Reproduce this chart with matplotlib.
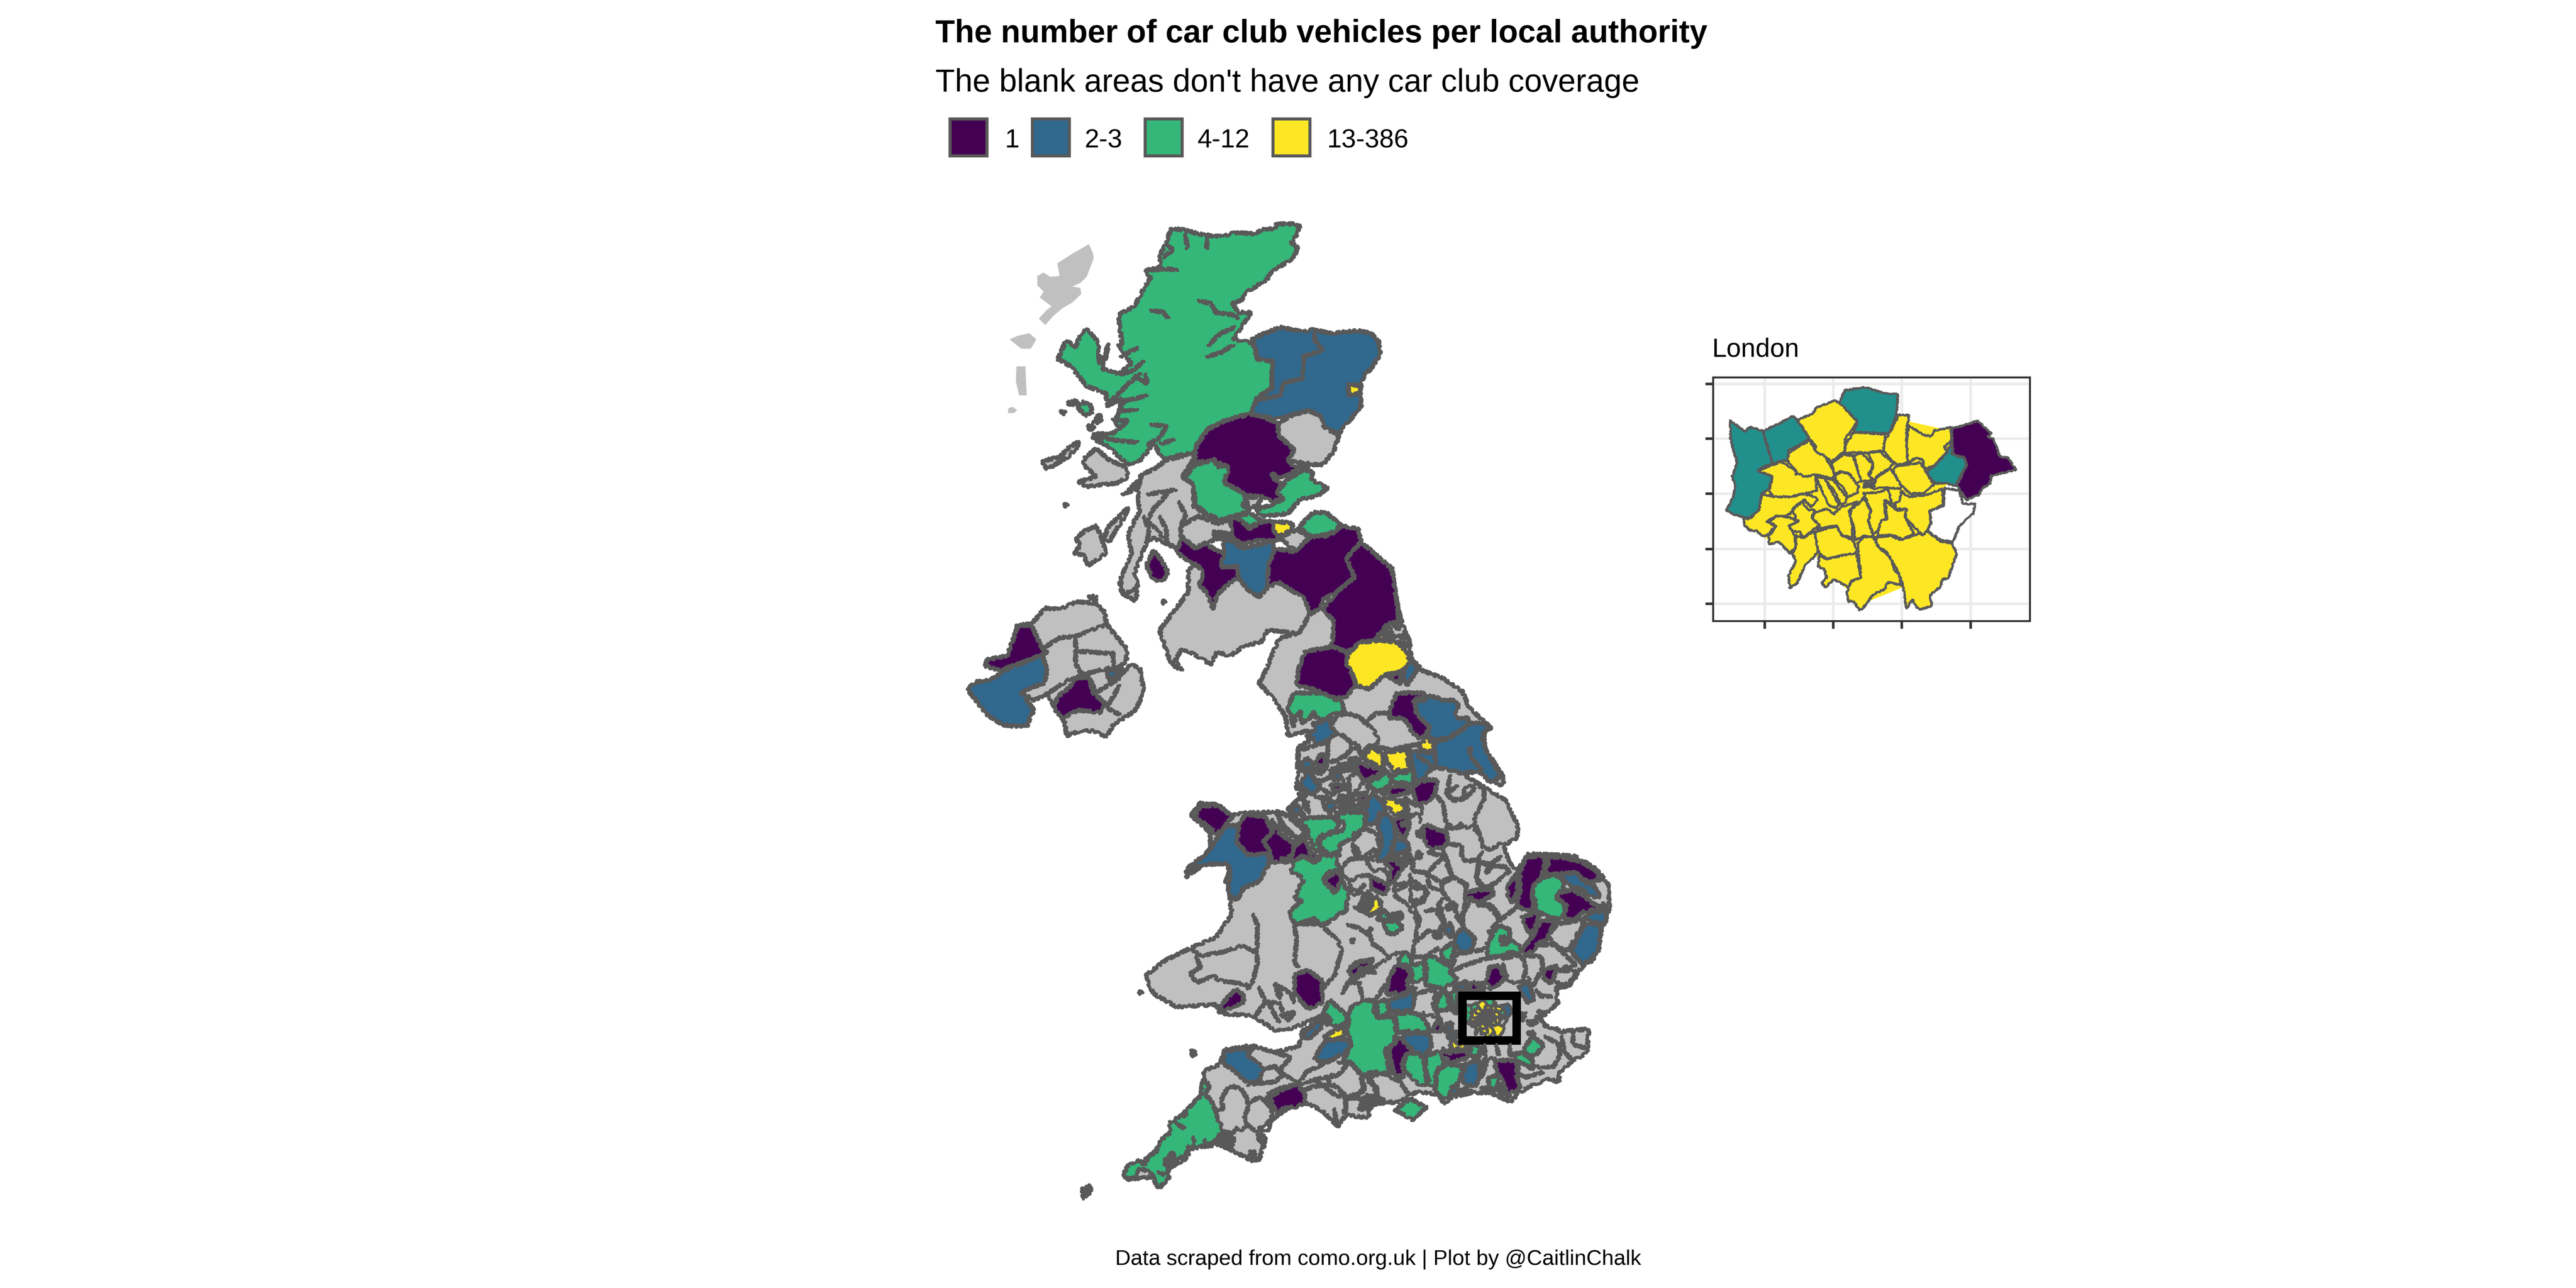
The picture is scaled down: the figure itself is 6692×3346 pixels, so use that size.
"""Car club vehicles per local authority, traced choropleth of the UK with a London inset."""
import matplotlib
matplotlib.use("Agg")
import matplotlib.pyplot as plt
from matplotlib.patches import Polygon, Rectangle

plt.rcParams["font.family"] = ["Liberation Sans", "DejaVu Sans"]

W, H = 6692, 3346
DPI = 300
EDGE = "#595959"
LW = 1.9
LW_LONDON = 1.35
ROUGH = (3.5, 28, 24)
ROUGH_LONDON = (1.6, 30, 24)

TITLE = "The number of car club vehicles per local authority"
SUBTITLE = "The blank areas don't have any car club coverage"
CAPTION = "Data scraped from como.org.uk | Plot by @CaitlinChalk"
LEGEND_LABELS = ["1", "2-3", "4-12", "13-386"]
LEGEND_KEY_X = [2464, 2678, 2971, 3303]
LEGEND_TEXT_X = [2611, 2818, 3110, 3448]

# fill classes: g = no club, a = 1, b = 2-3, c = 4-12, d = 13-386, t = London mid class
COLS = {"g": "#C0C0C0", "a": "#440154", "b": "#31688E", "c": "#35B779", "d": "#FDE725",
        "t": "#21908C", "w": "#FFFFFF", "k": EDGE}

# tracing sheets: x0, y0, x scale, y scale to map units
SHEETS = {"N": (2450, 550, 1300 / 1568, 1000 / 1568),
          "M": (2450, 1500, 1800 / 1568, 1000 / 1568),
          "C": (3300, 1800, 600 / 1568, 600 / 1568),
          "E": (3500, 2200, 700 / 1568, 700 / 1568),
          "S": (3400, 2500, 750 / 1568, 1 / 3),
          "P": (2700, 2300, 1600 / 1568, 900 / 1568),
          "W": (2850, 2780, 800 / 1568, 1 / 3)}

# coast of England, Wales and southern Scotland, run by run
COAST = [
    ("M", [(1018, -40), (1018, 0), (1030, 130), (1040, 195), (1055, 260), (1060, 330), (1085, 380), (1130, 410),
           (1175, 465), (1190, 530), (1235, 605), (1225, 630), (1225, 690), (1270, 820), (1265, 850), (1215, 795),
           (1170, 795), (1220, 850), (1275, 910), (1300, 1010), (1300, 1060), (1270, 1090), (1280, 1160),
           (1300, 1195), (1325, 1125), (1430, 1135), (1480, 1190), (1505, 1250), (1508, 1350), (1490, 1420),
           (1480, 1510), (1470, 1560)]),
    ("E", [(1375, 690), (1330, 740), (1290, 810), (1215, 820), (1225, 910), (1150, 975), (1095, 985), (1135, 1010),
           (1150, 1040), (1220, 1060), (1240, 1075), (1405, 1060), (1395, 1200), (1320, 1240), (1235, 1310),
           (1230, 1370), (1180, 1350), (1090, 1380), (1000, 1430), (950, 1485), (830, 1430), (720, 1430), (600, 1460),
           (565, 1495), (530, 1440), (410, 1425), (370, 1440), (340, 1465), (280, 1490), (210, 1480), (140, 1500),
           (125, 1568)]),
    ("P", [(830, 1050), (780, 1040), (760, 1090), (720, 1020), (680, 985), (640, 1000), (600, 1050), (560, 1100),
           (575, 1150), (560, 1240), (540, 1245), (480, 1190), (465, 1170), (390, 1190), (370, 1240), (330, 1280),
           (320, 1340), (305, 1370), (290, 1320), (225, 1330), (215, 1300), (270, 1240), (320, 1170), (350, 1060),
           (410, 960), (420, 840), (460, 810), (470, 745), (540, 725), (600, 755), (660, 730), (670, 660), (720, 590),
           (640, 650), (600, 655), (560, 610), (545, 590), (460, 580), (450, 540), (350, 550), (290, 490), (270, 410),
           (320, 340), (390, 280), (450, 235), (490, 130), (485, 50), (490, 0)]),
    ("M", [(650, 1290), (640, 1240), (650, 1190), (635, 1165), (590, 1170), (550, 1220), (550, 1190), (605, 1110),
           (605, 1040), (575, 990), (560, 970), (578, 920), (620, 925), (650, 970), (680, 960), (755, 955), (800, 975),
           (780, 945), (825, 870), (800, 860), (805, 690), (830, 665), (825, 625), (780, 645), (775, 565), (745, 490),
           (715, 430), (730, 380), (760, 250), (785, 235), (805, 228), (735, 215), (720, 262), (680, 280), (650, 320),
           (620, 305), (605, 355), (575, 320), (540, 290), (525, 340), (540, 380), (515, 350), (490, 215), (530, 120),
           (555, 60), (555, -30), (575, -55)]),
]

NORTH_REGIONS = [
    ("n", [(457, 132), (470, 170), (472, 190), (450, 265), (430, 290), (405, 305), (430, 310), (433, 335), (405, 370),
           (375, 392), (345, 425), (320, 462), (300, 435), (325, 400), (340, 385), (303, 350), (315, 325), (295, 300),
           (295, 262), (315, 248), (335, 265), (365, 262), (358, 210), (400, 175)]),
    ("n", [(208, 520), (235, 505), (270, 495), (292, 520), (275, 558), (245, 558)]),
    ("n", [(230, 630), (258, 630), (262, 748), (238, 748), (228, 690)]),
    ("n", [(205, 800), (218, 795), (232, 808), (222, 820), (203, 820)]),
    ("c", [(715, 68), (760, 75), (800, 90), (850, 100), (880, 100), (915, 85), (970, 90), (1010, 70), (1040, 70),
           (1045, 50), (1095, 50), (1118, 60), (1105, 100), (1090, 125), (1110, 145), (1100, 185), (1060, 220),
           (1030, 240), (1015, 275), (985, 300), (955, 325), (935, 360), (905, 375), (925, 410), (965, 410), (945, 450),
           (910, 520), (970, 535), (985, 600), (1035, 610), (1030, 660), (1030, 720), (985, 755), (965, 825), (920, 835),
           (885, 850), (830, 885), (795, 950), (790, 980), (730, 995), (690, 1010), (660, 945), (620, 1010), (580, 1030),
           (540, 985), (510, 950), (470, 925), (475, 905), (530, 905), (550, 880), (540, 850), (555, 800), (560, 760),
           (515, 790), (510, 740), (450, 710), (400, 630), (360, 600), (385, 525), (415, 550), (435, 490), (455, 480),
           (485, 530), (490, 620), (520, 540), (500, 640), (550, 660), (590, 620), (550, 540), (560, 540), (555, 480),
           (550, 420), (600, 385), (630, 310), (650, 270), (635, 240), (680, 225), (680, 175), (695, 140)]),
    ("c", [(420, 795), (435, 775), (465, 790), (465, 820), (445, 830)]),
    ("c", [(470, 855), (490, 825), (495, 850), (480, 860)]),
    ("k", [(390, 775), (420, 770), (415, 785), (395, 785)]),
    ("k", [(455, 868), (470, 868), (472, 885), (458, 885)]),
    ("k", [(372, 810), (382, 810), (382, 822), (372, 822)]),
    ("k", [(380, 1188), (390, 1188), (390, 1198), (380, 1198)]),
    ("g", [(310, 1015), (365, 1000), (390, 965), (425, 935), (420, 960), (390, 1000), (350, 1030), (325, 1050)]),
    ("g", [(445, 1000), (480, 965), (520, 1010), (570, 1040), (580, 1080), (545, 1105), (480, 1115), (450, 1120),
           (425, 1100), (480, 1080), (440, 1030)]),
    ("g", [(620, 1070), (660, 1050), (700, 1010), (795, 985), (750, 1080), (785, 1110), (785, 1200), (860, 1265),
           (895, 1255), (900, 1310), (870, 1330), (810, 1340), (790, 1360), (750, 1330), (735, 1370), (660, 1330),
           (640, 1340), (600, 1470), (610, 1530), (565, 1560), (555, 1500), (590, 1390), (580, 1310), (615, 1220),
           (610, 1120)]),
    ("g", [(500, 1340), (520, 1280), (580, 1205), (570, 1240), (535, 1310), (520, 1345)]),
    ("g", [(415, 1330), (445, 1300), (480, 1280), (495, 1320), (510, 1390), (480, 1420), (455, 1440), (440, 1400),
           (410, 1390), (430, 1360)]),
    ("a", [(640, 1430), (660, 1380), (685, 1420), (705, 1470), (690, 1500), (660, 1500), (640, 1450)]),
    ("b", [(970, 515), (1020, 490), (1055, 470), (1130, 490), (1160, 480), (1210, 495), (1300, 485), (1340, 495),
           (1365, 530), (1370, 580), (1340, 640), (1320, 665), (1305, 715), (1310, 790), (1280, 840), (1240, 905),
           (1195, 880), (1180, 830), (1145, 810), (1100, 825), (1060, 840), (1000, 835), (965, 825), (985, 755),
           (1030, 720), (1030, 660), (1035, 610), (985, 600)]),
    ("d", [(1270, 700), (1310, 710), (1305, 740), (1270, 750)]),
    ("g", [(1050, 860), (1100, 825), (1145, 810), (1180, 830), (1195, 880), (1240, 910), (1225, 975), (1190, 1030),
           (1160, 1030), (1115, 1020), (1080, 1015), (1100, 970), (1050, 910)]),
    ("d", [(1115, 1035), (1145, 1030), (1140, 1045), (1115, 1045)]),
    ("a", [(795, 950), (830, 885), (885, 850), (920, 840), (965, 825), (1000, 835), (1050, 860), (1050, 910),
           (1100, 970), (1080, 1015), (1110, 1050), (1060, 1085), (1030, 1065), (1040, 1095), (1060, 1105), (1050, 1140),
           (1065, 1165), (1030, 1180), (990, 1160), (950, 1155), (920, 1130), (880, 1105), (885, 1045), (895, 1040),
           (850, 1015), (790, 1020), (790, 985)]),
    ("c", [(755, 1085), (790, 1030), (850, 1010), (860, 1040), (895, 1040), (880, 1105), (920, 1130), (950, 1160),
           (940, 1195), (960, 1220), (870, 1255), (825, 1230), (790, 1190), (785, 1110)]),
    ("g", [(950, 1165), (1000, 1160), (985, 1200), (955, 1205)]),
    ("c", [(1050, 1135), (1080, 1090), (1130, 1050), (1160, 1060), (1150, 1090), (1205, 1125), (1170, 1160), (1120, 1170),
           (1080, 1230), (1000, 1240), (980, 1215), (1040, 1190), (1065, 1170), (1045, 1140)]),
    ("c", [(920, 1235), (965, 1230), (1000, 1260), (960, 1285)]),
    ("a", [(900, 1250), (920, 1245), (960, 1290), (1000, 1262), (1030, 1260), (1050, 1340), (980, 1340), (935, 1355),
           (905, 1325)]),
    ("g", [(1055, 1325), (1110, 1295), (1150, 1325), (1105, 1380), (1070, 1345)]),
    ("d", [(1040, 1260), (1095, 1270), (1095, 1295), (1050, 1325), (1035, 1295)]),
    ("c", [(1110, 1290), (1160, 1225), (1200, 1225), (1245, 1275), (1215, 1310), (1155, 1325), (1125, 1295)]),
    ("g", [(745, 1280), (800, 1240), (860, 1270), (900, 1260), (905, 1320), (870, 1330), (820, 1350), (790, 1370),
           (745, 1320)]),
    ("d", [(850, 1300), (900, 1315), (895, 1325), (870, 1320), (850, 1330)]),
]

NORTH_LINES = [
    [(800, 360), (840, 375), (855, 410), (910, 420), (925, 435)],
    [(830, 545), (870, 495), (915, 470)],
    [(825, 590), (870, 575), (910, 540)],
    [(735, 240), (700, 232), (640, 240)],
    [(650, 400), (690, 410), (705, 435)],
    [(650, 865), (700, 875), (680, 920), (640, 950)],
    [(470, 915), (540, 930), (610, 940)],
    [(725, 930), (680, 945)],
    [(1165, 490), (1165, 525), (1190, 565), (1130, 590), (1125, 680), (1070, 695), (1055, 750), (985, 765)],
    [(520, 540), (505, 600)],
    [(630, 610), (590, 650), (550, 665)],
    [(640, 1150), (700, 1140), (730, 1130)],
    [(760, 90), (765, 150)],
    [(830, 105), (825, 150)],
    [(700, 130), (720, 155), (690, 185)],
    [(555, 590), (610, 555)],
    [(635, 660), (640, 700), (600, 670)],
    [(620, 660), (580, 700), (560, 730), (510, 790)],
    [(640, 750), (570, 770), (550, 810), (610, 810)],
    [(550, 885), (580, 850), (530, 850)],
    [(710, 1140), (660, 1210), (640, 1260), (665, 1290), (715, 1365)],
    [(580, 1130), (610, 1100)],
    [(630, 1240), (645, 1300), (640, 1345)],
    [(740, 1180), (760, 1240), (745, 1280)],
    [(560, 1150), (610, 1130), (620, 1080)],
    [(680, 1240), (700, 1300), (700, 1340)],
]

MID_REGIONS = [
    ("g", [(165, 195), (200, 190), (230, 125), (265, 130), (300, 100), (345, 105), (365, 140), (370, 190), (385, 225),
           (415, 290), (415, 340), (390, 375), (400, 400), (425, 355), (445, 370), (455, 470), (435, 540), (420, 560),
           (385, 600), (370, 650), (340, 625), (310, 625), (280, 645), (275, 590), (235, 480), (205, 500), (175, 465),
           (225, 400), (230, 315)]),
    ("a", [(170, 195), (200, 195), (225, 290), (235, 305), (195, 335), (150, 365), (130, 380), (95, 360), (100, 335),
           (145, 320)]),
    ("b", [(225, 315), (235, 380), (230, 430), (175, 465), (205, 540), (190, 605), (155, 605), (135, 600), (100, 560),
           (55, 455), (75, 425), (105, 420), (150, 370)]),
    ("a", [(300, 410), (330, 405), (340, 470), (365, 510), (355, 550), (305, 540), (270, 575), (250, 530), (260, 485),
           (285, 450)]),
    ("b", [(370, 380), (395, 375), (395, 400), (375, 420)]),
    ("g", [(330, 75), (345, 75), (345, 95), (335, 90)]),
    ("g", [(400, 20), (420, 0), (440, 60), (435, 95), (405, 65)]),
    ("k", [(497, 92), (503, 92), (503, 104), (497, 104)]),
    ("a", [(538, -169), (570, -119), (592, -139), (635, -94), (628, -44), (668, -44), (668, 1), (650, 20), (620, 70),
           (610, 130), (600, 70), (580, 30), (590, -20), (575, -49), (540, -85), (527, -114)]),
    ("b", [(635, -149), (650, -154), (675, -119), (744, -144), (751, -104), (736, -49), (735, 40), (715, 80), (690, 50),
           (668, 1), (668, -44), (628, -44), (635, -89)]),
    ("a", [(751, -119), (794, -104), (830, -164), (874, -169), (902, -209), (939, -199), (946, -144), (913, -79),
           (931, 1), (890, 60), (860, 90), (850, 130), (830, 150), (820, 90), (760, 20), (735, 40), (736, -49)]),
    ("a", [(946, -144), (975, -99), (1014, -39), (1018, 0), (1030, 140), (1030, 180), (1005, 190), (990, 230),
           (975, 260), (945, 262), (915, 305), (880, 280), (885, 180), (860, 130), (890, 60), (931, 1), (913, -79)]),
    ("d", [(1000, 215), (1005, 190), (1015, 225), (1005, 225)]),
    ("d", [(985, 230), (1025, 240), (1005, 255), (985, 250)]),
    ("c", [(1020, 195), (1035, 195), (1030, 210)]),
    ("a", [(1030, 235), (1050, 235), (1040, 250)]),
    ("b", [(1035, 260), (1050, 265), (1040, 300)]),
    ("d", [(945, 262), (975, 260), (990, 255), (1030, 265), (1045, 300), (1060, 350), (1030, 390), (1000, 395),
           (965, 455), (935, 440), (925, 390), (910, 345), (920, 305)]),
    ("b", [(1060, 335), (1075, 370), (1050, 440), (1040, 410), (1045, 380)]),
    ("a", [(1005, 400), (1035, 385), (1035, 435)]),
    ("a", [(820, 300), (860, 290), (880, 280), (915, 305), (910, 345), (925, 390), (935, 440), (910, 490), (880, 490),
           (840, 455), (800, 440), (805, 370)]),
    ("a", [(582, 930), (625, 930), (655, 975), (620, 1045), (590, 1000), (570, 980)]),
    ("b", [(640, 1010), (670, 1010), (665, 1080), (690, 1125), (740, 1130), (735, 1175), (715, 1240), (680, 1265),
           (665, 1315), (645, 1290), (650, 1190), (640, 1165), (590, 1170), (555, 1195), (605, 1105)]),
    ("a", [(670, 1000), (685, 965), (730, 975), (745, 1040), (725, 1075), (745, 1125), (690, 1130), (665, 1080)]),
    ("a", [(745, 985), (760, 1040), (795, 1085), (795, 1135), (745, 1165), (740, 1120), (725, 1075), (745, 1040)]),
]

MID_LINES = [
    [(830, 150), (805, 228)],
    [(225, 290), (265, 245), (300, 240), (365, 195)],
    [(300, 240), (300, 350), (315, 400), (290, 410), (230, 480)],
    [(300, 300), (385, 310), (385, 365), (315, 395)],
    [(330, 400), (345, 470), (400, 410), (405, 370)],
    [(400, 440), (370, 530), (400, 560)],
    [(755, 960), (770, 1010), (800, 1060), (825, 1060)],
    [(1165, 850), (1140, 880), (1150, 905), (1180, 900), (1205, 860)],
]

CENTRE_REGIONS = [
    ("c", [(120, 90), (150, 25), (170, 0), (360, 0), (400, 30), (490, 65), (500, 130), (430, 145), (350, 185), (310, 165),
           (290, 130), (270, 170), (210, 205), (205, 125), (175, 155), (155, 230), (145, 160), (125, 130)]),
    ("b", [(290, 200), (340, 200), (410, 170), (410, 225), (450, 275), (400, 310), (385, 340), (320, 345), (290, 310),
           (245, 300), (300, 250)]),
    ("a", [(860, 0), (1050, 0), (1045, 40), (985, 40), (970, 50), (990, 130), (1030, 180), (1080, 230), (1055, 290),
           (1015, 310), (960, 265), (940, 215), (900, 170), (810, 170), (810, 120)]),
    ("b", [(985, 50), (1050, 50), (1070, 20), (1130, 30), (1175, 50), (1250, 50), (1280, 90), (1255, 120), (1265, 175),
           (1340, 170), (1345, 200), (1310, 245), (1250, 275), (1215, 305), (1120, 320), (1090, 300), (1060, 290),
           (1085, 235), (1030, 180), (990, 130)]),
    ("b", [(1130, 325), (1220, 310), (1260, 275), (1320, 240), (1350, 205), (1410, 205), (1500, 235), (1450, 265),
           (1440, 310), (1470, 400), (1568, 570), (1520, 590), (1490, 605), (1430, 540), (1400, 530), (1300, 545),
           (1240, 530), (1190, 515), (1125, 510), (1115, 380)]),
    ("d", [(1050, 300), (1080, 295), (1090, 340), (1110, 355), (1110, 395), (1060, 400), (1020, 385), (1005, 345),
           (1040, 335)]),
    ("b", [(960, 390), (1000, 395), (1055, 410), (1115, 400), (1125, 505), (1060, 540), (1050, 580), (985, 590),
           (975, 530), (950, 440)]),
    ("a", [(960, 650), (1000, 610), (1080, 590), (1135, 590), (1120, 680), (1085, 725), (1040, 750), (985, 730),
           (975, 680)]),
    ("d", [(780, 400), (860, 395), (905, 390), (945, 375), (930, 430), (945, 520), (880, 520), (840, 530), (810, 490),
           (790, 470)]),
    ("d", [(680, 365), (720, 385), (765, 425), (770, 505), (745, 510), (700, 480), (640, 450)]),
    ("c", [(780, 515), (810, 545), (820, 625), (760, 660), (720, 670), (660, 620), (720, 585), (770, 565)]),
    ("c", [(860, 540), (925, 540), (970, 530), (975, 600), (950, 630), (910, 610), (845, 610), (830, 580)]),
    ("a", [(610, 465), (660, 495), (690, 510), (745, 510), (755, 545), (700, 570), (650, 600), (590, 535)]),
    ("a", [(750, 680), (845, 635), (915, 630), (955, 675), (900, 685), (850, 695)]),
    ("d", [(770, 710), (835, 715), (855, 745), (880, 725), (915, 780), (935, 825), (890, 810), (850, 830), (820, 795),
           (780, 755)]),
    ("b", [(510, 475), (585, 465), (585, 515), (510, 500)]),
    ("a", [(460, 480), (495, 485), (500, 520), (470, 535)]),
    ("b", [(415, 510), (440, 505), (485, 580), (435, 595)]),
    ("a", [(300, 520), (360, 520), (390, 500), (340, 550), (300, 545)]),
    ("b", [(215, 470), (245, 440), (295, 490), (270, 515), (205, 510)]),
    ("a", [(305, 465), (345, 415), (370, 430), (375, 490), (320, 495)]),
    ("b", [(245, 540), (275, 535), (300, 600), (335, 620), (320, 670), (275, 690), (240, 660), (205, 630), (230, 570)]),
    ("b", [(195, 680), (240, 695), (215, 730)]),
    ("d", [(235, 730), (260, 745), (245, 780), (270, 812), (225, 770)]),
    ("b", [(130, 785), (175, 755), (235, 840), (185, 825)]),
    ("a", [(410, 620), (480, 620), (480, 665), (425, 660)]),
    ("d", [(470, 690), (530, 710), (490, 700), (470, 730), (450, 745), (470, 710)]),
    ("d", [(555, 680), (570, 720), (540, 790), (530, 765), (545, 720)]),
    ("a", [(595, 715), (625, 690), (655, 695), (640, 735), (600, 740)]),
    ("b", [(370, 760), (420, 730), (445, 770), (405, 815), (365, 780)]),
    ("b", [(460, 770), (510, 725), (520, 780), (480, 790)]),
    ("c", [(555, 780), (590, 755), (640, 770), (625, 795), (580, 800)]),
    ("c", [(190, 860), (250, 850), (420, 840), (470, 885), (430, 940), (380, 950), (325, 985), (320, 1020), (345, 1075),
           (300, 1070), (270, 985), (230, 955), (265, 935)]),
    ("c", [(440, 810), (520, 815), (560, 810), (640, 810), (645, 910), (580, 945), (540, 995), (470, 1030), (470, 1080),
           (410, 1095), (360, 1070), (330, 1020), (350, 985), (400, 960), (490, 935), (505, 885), (470, 860)]),
    ("b", [(700, 680), (740, 720), (770, 765), (790, 800), (740, 820), (720, 880), (680, 895), (655, 880), (660, 730)]),
    ("b", [(800, 820), (830, 860), (855, 980), (830, 1020), (820, 1090), (780, 1120), (730, 1150), (730, 1100),
           (760, 1020), (745, 960), (725, 890), (745, 860), (740, 835)]),
    ("b", [(870, 990), (925, 1005), (945, 1070), (880, 1085), (850, 1120), (835, 1090), (840, 1030)]),
    ("a", [(845, 855), (920, 835), (945, 870), (940, 920), (915, 980), (885, 975), (860, 930)]),
    ("b", [(890, 880), (940, 865), (920, 895), (895, 900)]),
    ("a", [(1040, 900), (1070, 895), (1120, 925), (1200, 945), (1205, 1015), (1170, 1055), (1125, 1045), (1095, 1070),
           (1040, 990)]),
    ("b", [(1000, 940), (1030, 925), (1025, 975), (995, 965)]),
    ("d", [(1010, 1075), (1030, 1100), (1010, 1125), (990, 1100)]),
    ("a", [(775, 1150), (820, 1125), (850, 1150), (880, 1170), (925, 1165), (880, 1210), (860, 1250), (830, 1290),
           (800, 1280), (825, 1220), (820, 1190)]),
    ("a", [(900, 1100), (950, 1100), (965, 1160), (930, 1145)]),
    ("c", [(855, 1135), (885, 1115), (910, 1145), (885, 1165)]),
    ("a", [(685, 1240), (730, 1270), (810, 1310), (775, 1370), (720, 1345), (690, 1330)]),
    ("a", [(560, 1020), (590, 1060), (600, 1090), (570, 1095)]),
    ("a", [(155, 1050), (225, 990), (260, 1040), (270, 1085), (320, 1100), (305, 1130), (225, 1100), (180, 1130),
           (95, 1150), (70, 1130), (155, 1100)]),
    ("c", [(155, 1140), (220, 1110), (300, 1150), (330, 1130), (345, 1090), (410, 1110), (470, 1095), (440, 1150),
           (470, 1175), (470, 1200), (400, 1215), (355, 1270), (440, 1360), (490, 1265), (505, 1320), (540, 1340),
           (520, 1410), (515, 1480), (470, 1500), (380, 1568), (170, 1568), (120, 1490), (170, 1450), (215, 1410),
           (165, 1395), (200, 1310), (225, 1285), (215, 1250), (140, 1215), (150, 1170)]),
    ("a", [(370, 1265), (410, 1235), (460, 1220), (490, 1260), (445, 1345), (400, 1310)]),
    ("d", [(725, 1380), (750, 1420), (745, 1470), (710, 1495), (670, 1515), (650, 1490), (690, 1440), (680, 1430)]),
    ("b", [(630, 1385), (665, 1350), (695, 1395), (640, 1390)]),
    ("c", [(630, 1420), (665, 1410), (660, 1460), (640, 1465)]),
    ("d", [(835, 1495), (885, 1495), (890, 1530), (835, 1530)]),
    ("c", [(725, 1530), (765, 1475), (810, 1510), (815, 1540), (760, 1545)]),
    ("a", [(1325, 1360), (1400, 1340), (1510, 1330), (1510, 1370), (1440, 1390), (1405, 1425), (1370, 1390), (1325, 1385)]),
    ("a", [(1195, 910), (1225, 890), (1220, 905), (1200, 915)]),
    ("b", [(1265, 905), (1300, 885), (1280, 915)]),
    ("b", [(1190, 1460), (1230, 1425), (1255, 1450), (1210, 1470)]),
]

CENTRE_LINES = [
    [(1225, 560), (1195, 685), (1250, 730), (1310, 720), (1320, 650), (1395, 620), (1450, 650), (1450, 730), (1390, 840),
     (1385, 880), (1420, 960), (1445, 1050), (1500, 1065), (1568, 1020)],
    [(1120, 680), (1175, 760), (1195, 890), (1220, 920), (1375, 910), (1420, 960)],
    [(1000, 820), (950, 840), (910, 710), (980, 760), (1030, 770), (1010, 880)],
    [(1200, 1020), (1300, 1040), (1300, 1110), (1330, 1145), (1410, 1130), (1445, 1080)],
    [(1420, 1130), (1400, 1250), (1420, 1310), (1510, 1320)],
    [(1400, 1140), (1490, 1165), (1568, 1110)],
    [(1490, 1165), (1465, 1225)],
    [(1180, 1070), (1200, 1170), (1240, 1250), (1335, 1300), (1320, 1350)],
    [(1240, 1250), (1165, 1280), (1165, 1340), (1220, 1420)],
    [(1070, 1080), (1175, 1110)],
    [(980, 1130), (960, 1210), (1065, 1220), (1075, 1290), (1085, 1320), (1165, 1350)],
    [(1065, 1220), (1180, 1110)],
    [(950, 1230), (960, 1280), (840, 1310), (850, 1380), (920, 1430), (990, 1530), (1000, 1568)],
    [(950, 1300), (1000, 1330), (1040, 1310), (1060, 1360), (1030, 1400), (950, 1420), (960, 1370), (950, 1300)],
    [(1120, 1470), (1170, 1470), (1130, 1490), (1190, 1568)],
    [(1050, 1480), (1110, 1470)],
    [(1330, 1400), (1310, 1500), (1300, 1568)],
    [(1405, 1440), (1500, 1440), (1568, 1530)],
    [(590, 1100), (630, 1120), (710, 1060), (740, 1080), (650, 1140), (690, 1210), (780, 1200), (810, 1260)],
    [(700, 1140), (630, 1120), (540, 1130), (480, 1190), (490, 1240), (540, 1280), (620, 1240), (680, 1240)],
    [(560, 1000), (640, 920), (720, 950), (745, 1050)],
    [(540, 1280), (550, 1340), (600, 1345), (640, 1300)],
    [(560, 1370), (620, 1350), (630, 1390), (600, 1470), (650, 1490), (570, 1450)],
    [(330, 350), (390, 320), (390, 470), (450, 460), (500, 430), (555, 385), (545, 335)],
    [(500, 440), (540, 390), (590, 370), (630, 440), (530, 450)],
    [(190, 380), (230, 380), (330, 350)],
    [(190, 380), (185, 490), (205, 525), (300, 520), (380, 500), (395, 490)],
    [(295, 545), (300, 590), (345, 600), (410, 570), (410, 520)],
    [(340, 640), (410, 690), (450, 680)],
    [(300, 700), (340, 710), (410, 710), (350, 740), (370, 760)],
    [(500, 590), (510, 660), (540, 680), (530, 580), (590, 530), (630, 610), (590, 650), (570, 690), (655, 680), (660, 630)],
    [(490, 530), (580, 515), (600, 530)],
    [(415, 215), (450, 155), (530, 140), (610, 165), (640, 200), (700, 250), (720, 290), (735, 330), (710, 360), (660, 360),
     (630, 420), (590, 350), (545, 335), (495, 290), (450, 275)],
    [(650, 190), (720, 140), (800, 135)],
    [(720, 360), (820, 390), (900, 365), (1000, 350)],
    [(60, 830), (80, 810), (170, 880), (240, 940), (210, 975), (150, 1010), (130, 960), (75, 920), (60, 830)],
    [(1340, 375), (1365, 370), (1350, 420), (1385, 465), (1440, 525)],
    [(1000, 425), (1060, 470), (1110, 510)],
]

EAST_REGIONS = [
    ("a", [(1040, 60), (1150, 50), (1150, 100), (1130, 180), (1085, 220), (1075, 290), (1085, 330), (1075, 370), (1030, 370),
           (985, 335), (1005, 255), (1005, 150)]),
    ("a", [(935, 215), (995, 150), (990, 260), (960, 325), (935, 280)]),
    ("a", [(1170, 55), (1270, 65), (1360, 85), (1430, 130), (1475, 190), (1410, 205), (1350, 175), (1330, 150), (1250, 155),
           (1200, 160), (1145, 160), (1170, 100)]),
    ("b", [(1250, 155), (1335, 150), (1380, 205), (1440, 230), (1470, 290), (1425, 290), (1360, 240), (1310, 235),
           (1270, 210)]),
    ("c", [(1135, 180), (1200, 160), (1255, 190), (1265, 225), (1240, 260), (1215, 295), (1265, 340), (1260, 395),
           (1240, 420), (1160, 405), (1130, 385), (1090, 360), (1100, 320), (1075, 290), (1085, 225)]),
    ("a", [(1240, 265), (1300, 250), (1360, 270), (1430, 330), (1480, 350), (1370, 380), (1320, 425), (1260, 420),
           (1275, 340), (1215, 295)]),
    ("d", [(1335, 258), (1345, 260), (1345, 275), (1335, 270)]),
    ("b", [(1380, 405), (1420, 380), (1510, 375), (1505, 440), (1490, 450), (1430, 435)]),
    ("b", [(1490, 325), (1515, 345), (1510, 370), (1495, 350)]),
    ("a", [(1015, 405), (1110, 385), (1115, 410), (1090, 480), (1060, 510), (1035, 450)]),
    ("a", [(1130, 425), (1210, 430), (1180, 500), (1160, 545), (1105, 560), (1090, 600), (1045, 620), (1015, 600), (1080, 520)]),
    ("b", [(1385, 445), (1430, 445), (1480, 470), (1470, 545), (1460, 610), (1420, 640), (1375, 690), (1320, 630),
           (1305, 600), (1345, 520)]),
    ("c", [(815, 560), (880, 455), (945, 480), (945, 540), (1010, 585), (1000, 625), (950, 610), (890, 640), (815, 635)]),
    ("g", [(890, 520), (930, 520), (935, 565), (895, 565)]),
    ("d", [(900, 527), (920, 530), (915, 550), (905, 550)]),
    ("a", [(690, 262), (740, 255), (845, 245), (850, 280), (770, 320), (735, 300), (690, 290)]),
    ("b", [(625, 510), (670, 475), (700, 490), (745, 535), (720, 610), (680, 620), (630, 575)]),
    ("b", [(565, 470), (600, 445), (615, 500), (610, 530), (570, 500)]),
    ("c", [(505, 510), (550, 500), (540, 525), (510, 530)]),
    ("b", [(575, 345), (610, 325), (635, 345), (600, 360)]),
    ("c", [(545, 600), (620, 555), (625, 600), (600, 670), (560, 660)]),
    ("c", [(450, 650), (480, 630), (520, 650), (605, 700), (600, 730), (640, 770), (580, 810), (560, 825), (450, 800),
           (465, 730)]),
    ("c", [(300, 650), (330, 610), (370, 640), (380, 690), (450, 670), (445, 770), (370, 790), (380, 730), (350, 690),
           (300, 680)]),
    ("a", [(240, 760), (290, 685), (340, 700), (375, 740), (350, 780), (350, 850), (280, 850), (230, 860)]),
    ("d", [(380, 810), (400, 825), (400, 840), (390, 835)]),
    ("b", [(235, 890), (350, 860), (360, 820), (395, 870), (375, 950), (320, 950), (250, 960)]),
    ("c", [(175, 900), (220, 890), (250, 960), (190, 995), (175, 990)]),
    ("c", [(280, 970), (380, 965), (430, 980), (470, 1040), (480, 1075), (380, 1070), (290, 1080)]),
    ("b", [(325, 1085), (480, 1085), (490, 1170), (440, 1210), (395, 1190), (330, 1140)]),
    ("a", [(295, 1110), (320, 1110), (335, 1145), (390, 1195), (345, 1210), (320, 1260), (325, 1340), (270, 1310),
           (240, 1180), (280, 1140)]),
    ("c", [(345, 1200), (400, 1200), (445, 1230), (465, 1380), (420, 1385), (330, 1300), (330, 1250)]),
    ("c", [(455, 1215), (540, 1190), (570, 1260), (530, 1290), (510, 1340), (510, 1400), (480, 1380), (455, 1290)]),
    ("c", [(525, 1300), (570, 1270), (670, 1270), (660, 1350), (590, 1440), (560, 1470), (510, 1420)]),
    ("b", [(690, 1260), (770, 1240), (770, 1340), (745, 1395), (680, 1375), (670, 1350)]),
    ("b", [(610, 1390), (640, 1380), (640, 1440), (600, 1445)]),
    ("b", [(660, 1410), (695, 1400), (690, 1430), (650, 1430)]),
    ("a", [(700, 1425), (720, 1415), (720, 1430)]),
    ("d", [(780, 1400), (820, 1400), (840, 1425), (790, 1415)]),
    ("c", [(820, 1340), (870, 1330), (880, 1370), (860, 1420), (825, 1400)]),
    ("c", [(880, 1375), (895, 1375), (905, 1450), (890, 1440)]),
    ("a", [(865, 1240), (985, 1245), (990, 1280), (985, 1330), (1005, 1400), (950, 1430), (930, 1470), (920, 1400),
           (890, 1340), (860, 1280)]),
    ("a", [(555, 1170), (590, 1200), (700, 1180), (700, 1230), (600, 1250), (555, 1210)]),
    ("d", [(610, 1120), (650, 1145), (690, 1150), (695, 1185), (595, 1170)]),
    ("c", [(715, 1150), (760, 1150), (775, 1215), (720, 1225)]),
    ("c", [(790, 1150), (800, 1150), (800, 1200)]),
    ("c", [(1025, 1170), (1080, 1105), (1145, 1150), (1100, 1210), (1060, 1215)]),
    ("c", [(945, 1205), (1020, 1200), (1080, 1240), (1080, 1295), (1000, 1245)]),
    ("a", [(490, 1065), (540, 995), (555, 1070), (510, 1075)]),
    ("b", [(575, 1025), (610, 1020), (600, 1075), (570, 1075)]),
    ("b", [(580, 1100), (610, 1075), (640, 1080), (640, 1110), (590, 1115)]),
    ("c", [(520, 900), (560, 820), (590, 880), (590, 950), (530, 950)]),
    ("c", [(595, 850), (640, 830), (640, 940), (610, 910)]),
    ("c", [(615, 930), (640, 930), (640, 965), (610, 960)]),
    ("b", [(615, 805), (670, 795), (695, 780), (695, 840), (640, 830)]),
    ("a", [(715, 790), (755, 785), (755, 840), (715, 840)]),
    ("b", [(770, 820), (785, 785), (800, 835), (770, 840)]),
    ("a", [(810, 770), (830, 700), (885, 690), (905, 740), (920, 760), (890, 795), (830, 825)]),
    ("b", [(1000, 810), (1050, 780), (1090, 885), (1050, 905), (1020, 860)]),
    ("b", [(1045, 1015), (1105, 1015), (1070, 1040)]),
    ("b", [(1055, 1075), (1085, 1075), (1085, 1090), (1055, 1085)]),
    ("b", [(1015, 965), (1040, 970), (1015, 1010)]),
    ("a", [(1145, 710), (1220, 695), (1200, 770), (1180, 795), (1140, 760)]),
    ("a", [(1110, 955), (1150, 965), (1150, 975)]),
    ("a", [(15, 695), (60, 670), (150, 655), (130, 700), (160, 740), (100, 700), (70, 710), (50, 770), (10, 730)]),
    ("c", [(65, 730), (85, 720), (95, 745), (75, 745)]),
    ("c", [(210, 440), (240, 430), (290, 435), (325, 470), (270, 510), (235, 500)]),
    ("c", [(170, 420), (205, 375), (250, 405), (250, 425), (175, 425)]),
    ("d", [(265, 385), (315, 385), (315, 415), (270, 415)]),
    ("c", [(115, 490), (140, 470), (135, 490), (115, 505)]),
    ("b", [(20, 540), (40, 535), (30, 555)]),
]

# Wiltshire block, traced on the closer crop
WILTS_REGIONS = [
    ("c", [(290, 290), (360, 300), (355, 380), (375, 430), (450, 420), (470, 500), (465, 630), (415, 680), (440, 880),
           (350, 850), (285, 885), (235, 790), (190, 760), (230, 650), (210, 530), (225, 360)]),
]

EAST_LINES = [
    [(560, 20), (610, 170), (690, 220), (680, 290), (750, 320)],
    [(480, 160), (550, 215), (610, 180)],
    [(770, 90), (750, 180), (800, 240), (870, 205), (935, 150)],
    [(770, 90), (840, 110), (925, 115), (945, 150)],
    [(815, 150), (840, 110)],
    [(800, 320), (870, 400), (885, 430), (1000, 340)],
    [(720, 310), (650, 420), (680, 465)],
    [(885, 430), (820, 500)],
    [(560, 300), (530, 340), (580, 470)],
    [(620, 320), (640, 420), (680, 430)],
    [(290, 250), (390, 200), (470, 260), (440, 320), (380, 340), (420, 420), (390, 560), (470, 490), (530, 500), (560, 440)],
    [(0, 450), (60, 470), (140, 520), (140, 560), (190, 590), (240, 650), (300, 610)],
    [(390, 570), (380, 640), (450, 640), (530, 590)],
    [(600, 710), (640, 620), (780, 600), (800, 590)],
    [(610, 720), (710, 680), (800, 650), (890, 640)],
    [(900, 650), (1000, 630), (1030, 660), (1040, 720), (1020, 780), (950, 790), (920, 740), (905, 680)],
    [(1030, 630), (1130, 640), (1140, 700), (1080, 810), (1050, 760)],
    [(1105, 570), (1210, 570), (1280, 640), (1330, 685), (1220, 710)],
    [(1180, 500), (1220, 450), (1385, 420), (1320, 540), (1290, 600), (1230, 590), (1175, 530)],
    [(1230, 720), (1320, 720), (1340, 750), (1260, 810), (1210, 780)],
    [(1100, 830), (1130, 870), (1190, 870)],
    [(1150, 1100), (1230, 1150), (1240, 1210), (1200, 1280), (1090, 1280)],
    [(1250, 1100), (1260, 1190), (1310, 1240)],
    [(1320, 1080), (1310, 1150), (1390, 1170)],
    [(800, 1150), (800, 1230), (780, 1340), (820, 1240), (860, 1225)],
    [(870, 1150), (880, 1210)],
    [(950, 1150), (945, 1205)],
    [(1000, 1250), (990, 1320), (1040, 1340), (1140, 1310)],
    [(400, 850), (520, 830), (500, 920), (530, 990), (440, 970)],
    [(120, 1360), (170, 1400), (180, 1470)],
    [(80, 1340), (100, 1420), (40, 1450), (0, 1470)],
    [(250, 1340), (300, 1360), (350, 1430)],
    [(85, 880), (70, 790), (0, 790)],
    [(225, 800), (170, 880)],
]

SOUTH_REGIONS = [
    ("a", [(650, 400), (685, 385), (720, 430), (720, 530), (685, 560), (650, 490)]),
    ("a", [(460, 545), (500, 470), (520, 495), (520, 530), (465, 570)]),
    ("a", [(600, 445), (615, 500), (610, 510)]),
    ("d", [(615, 585), (650, 575), (635, 610)]),
    ("c", [(720, 580), (740, 520), (785, 590), (780, 620), (750, 640), (735, 590)]),
    ("d", [(725, 680), (780, 635), (775, 685), (750, 700)]),
    ("d", [(720, 595), (740, 605), (735, 635)]),
    ("b", [(680, 660), (720, 600), (720, 640), (690, 690), (670, 690)]),
    ("b", [(700, 780), (730, 700), (785, 695), (790, 740), (745, 790), (715, 800)]),
    ("b", [(470, 750), (545, 735), (530, 770), (570, 825), (560, 885), (530, 895), (490, 830), (470, 810)]),
    ("a", [(885, 740), (915, 690), (940, 745), (915, 800), (925, 870), (895, 830)]),
    ("c", [(905, 1015), (945, 965), (985, 1005), (950, 1060)]),
    ("k", [(110, 1370), (130, 1360), (130, 1390), (110, 1415)]),
    ("k", [(388, 745), (396, 745), (396, 770), (390, 770)]),
    ("k", [(256, 478), (262, 478), (262, 488), (256, 488)]),
]

SOUTH_LINES = [
    [(545, 130), (555, 180), (555, 290), (545, 300), (520, 270), (470, 300), (410, 320), (390, 290)],
    [(555, 300), (555, 350), (545, 430), (530, 470)],
    [(400, 320), (410, 370), (385, 400), (400, 440), (445, 410), (455, 430), (530, 450)],
    [(650, 180), (655, 250), (650, 350), (660, 370)],
    [(650, 180), (700, 150), (760, 250), (770, 300), (760, 350), (755, 400), (720, 470)],
    [(560, 460), (575, 530), (610, 530), (620, 570)],
    [(600, 445), (640, 490), (650, 530)],
    [(545, 600), (580, 520), (610, 620)],
    [(790, 380), (815, 350), (850, 335), (830, 380), (855, 395), (820, 380), (800, 420)],
    [(770, 490), (790, 430), (830, 400), (880, 340)],
    [(760, 800), (790, 800), (830, 870), (880, 850), (920, 870)],
    [(600, 755), (640, 780), (610, 840), (660, 900), (680, 845), (745, 790)],
    [(570, 830), (600, 820), (620, 860), (600, 890), (530, 900)],
    [(790, 800), (760, 860), (700, 880), (660, 900)],
    [(840, 860), (860, 950), (830, 970), (790, 960)],
    [(700, 880), (755, 950), (780, 960), (780, 1040)],
]

CORNWALL_REGIONS = [
    ("c", [(535, 95), (555, 80), (570, 130), (550, 190), (580, 230), (610, 340), (610, 390), (635, 435), (625, 500),
           (610, 560), (580, 565), (550, 590), (500, 600), (465, 600), (450, 680), (415, 680), (400, 715), (360, 760),
           (365, 840), (340, 880), (315, 920), (295, 870), (280, 800), (225, 770), (205, 780), (200, 830), (160, 850),
           (135, 820), (155, 750), (210, 695), (240, 740), (265, 670), (300, 640), (310, 590), (330, 540), (370, 490),
           (370, 410), (410, 370), (455, 350), (465, 300), (500, 240), (530, 200)]),
    ("a", [(875, 210), (960, 140), (1015, 110), (1060, 180), (1050, 260), (1015, 285), (950, 295), (915, 345), (895, 260)]),
    ("c", [(860, 245), (880, 245), (880, 265), (865, 265)]),
    ("k", [(1330, 300), (1370, 195), (1460, 230), (1460, 255), (1400, 270), (1380, 310)]),
    ("d", [(1375, 210), (1385, 215), (1390, 255), (1380, 240)]),
    ("d", [(1400, 225), (1425, 245), (1410, 250)]),
    ("k", [(600, 540), (650, 480), (700, 540), (680, 610), (640, 600)]),
    ("c", [(660, 530), (675, 520), (675, 550), (660, 550)]),
    ("k", [(350, 690), (385, 640), (395, 700), (380, 760), (345, 735)]),
    ("k", [(780, 630), (800, 630), (805, 690), (780, 690)]),
]

CORNWALL_LINES = [
    [(660, 140), (690, 125), (735, 150), (765, 220), (770, 290), (750, 370), (755, 420), (745, 470), (715, 450), (690, 490),
     (635, 480)],
    [(610, 310), (640, 300), (635, 220), (660, 150)],
    [(775, 250), (820, 215), (855, 235), (890, 300), (890, 380), (870, 470), (835, 460), (800, 470), (760, 415)],
    [(860, 240), (870, 190), (925, 145), (1020, 105)],
    [(1040, 160), (1100, 130), (1170, 115), (1200, 30)],
    [(1170, 115), (1210, 120), (1260, 190), (1270, 300), (1250, 330)],
    [(1270, 200), (1330, 190), (1360, 130), (1345, 50)],
    [(400, 400), (420, 430), (445, 455)],
    [(490, 520), (500, 570)],
    [(550, 540), (550, 585)],
    [(310, 790), (345, 815)],
    [(820, 490), (825, 540), (860, 590)],
    [(1210, 300), (1220, 440)],
]

# London inset boroughs
LONDON_X_TICKS = [367, 646, 925, 1205]
LONDON_Y_TICKS = [337, 610, 884, 1158, 1431]
LONDON_OUTLINE = [(300, 1000), (400, 800), (500, 520), (650, 440), (900, 510), (1120, 570), (1120, 830), (1080, 870),
                  (1080, 1110), (1130, 1140), (1110, 1290), (1040, 1380), (950, 1340), (770, 1430), (715, 1370),
                  (640, 1300), (610, 1250), (575, 1190), (500, 1290), (490, 1160), (390, 1120), (300, 1050)]
LONDON_BOROUGHS = [
    ("t", [(228, 520), (285, 575), (310, 553), (360, 572), (400, 735), (365, 750), (340, 770), (400, 800), (385, 860),
           (355, 885), (345, 965), (305, 1008), (235, 985), (212, 967), (240, 900), (248, 850), (235, 800), (255, 730),
           (228, 610)]),
    ("t", [(360, 572), (420, 540), (485, 497), (550, 605), (520, 635), (465, 670), (470, 695), (460, 720), (435, 720),
           (400, 735)]),
    ("d", [(500, 515), (560, 490), (580, 455), (635, 430), (650, 420), (700, 450), (745, 525), (720, 575), (695, 610),
           (695, 680), (680, 685), (640, 725), (600, 690), (570, 680), (575, 650), (550, 610)]),
    ("t", [(670, 430), (695, 370), (780, 355), (840, 380), (910, 390), (905, 490), (875, 585), (730, 578), (745, 525),
           (710, 480)]),
    ("d", [(915, 490), (955, 495), (950, 535), (945, 560), (945, 620), (955, 730), (905, 740), (880, 715), (850, 670),
           (855, 620), (875, 585)]),
    ("d", [(955, 545), (1010, 590), (1045, 600), (1060, 570), (1125, 555), (1130, 615), (1100, 650), (1110, 680), (1085, 710),
           (1060, 745), (1020, 760), (1010, 715), (985, 705), (950, 730), (945, 620)]),
    ("d", [(730, 578), (860, 590), (850, 670), (785, 680), (760, 680), (730, 680), (690, 685), (700, 630), (720, 600)]),
    ("a", [(1130, 555), (1165, 550), (1235, 522), (1290, 585), (1275, 600), (1300, 610), (1325, 700), (1360, 705),
           (1390, 765), (1290, 795), (1285, 835), (1255, 855), (1240, 890), (1190, 915), (1150, 845), (1190, 740),
           (1180, 705), (1135, 690), (1130, 620)]),
    ("t", [(1030, 770), (1060, 745), (1110, 680), (1130, 620), (1130, 685), (1180, 710), (1190, 740), (1145, 845), (1100, 830),
           (1065, 835), (1030, 790)]),
    ("d", [(340, 770), (435, 725), (495, 770), (495, 790), (530, 775), (575, 790), (580, 870), (550, 880), (500, 890),
           (480, 900), (405, 905), (385, 870), (400, 800)]),
    ("d", [(465, 680), (520, 640), (550, 620), (580, 680), (610, 695), (655, 780), (645, 810), (575, 790), (530, 800),
           (500, 780), (460, 720)]),
    ("d", [(640, 730), (690, 690), (725, 695), (750, 770), (760, 825), (735, 835), (715, 785), (675, 775), (650, 790)]),
    ("d", [(730, 695), (760, 680), (810, 740), (790, 790), (810, 815), (760, 825), (745, 760)]),
    ("d", [(785, 680), (835, 675), (890, 730), (880, 755), (830, 790), (815, 820), (795, 800), (810, 740)]),
    ("d", [(825, 800), (880, 760), (925, 840), (920, 860), (880, 855), (845, 855), (815, 860), (785, 845), (770, 855),
           (775, 830), (815, 830)]),
    ("d", [(905, 745), (955, 740), (1000, 730), (1020, 765), (1055, 840), (1020, 880), (960, 885), (920, 840), (890, 770)]),
    ("d", [(650, 795), (680, 775), (715, 790), (750, 850), (745, 880), (705, 900), (690, 860), (660, 820)]),
    ("d", [(610, 805), (645, 815), (700, 900), (700, 925), (680, 940), (650, 870)]),
    ("d", [(575, 800), (610, 805), (670, 940), (660, 955), (625, 940), (605, 880)]),
    ("d", [(355, 885), (405, 900), (480, 900), (520, 885), (575, 900), (585, 915), (555, 950), (530, 915), (490, 950),
           (470, 985), (440, 1000), (400, 1005), (375, 1020), (410, 1045), (380, 1090), (355, 1095), (335, 1070), (305, 1065),
           (285, 1040), (280, 1010), (305, 1010), (345, 965)]),
    ("d", [(575, 975), (620, 960), (650, 985), (680, 950), (745, 925), (712, 970), (725, 1040), (725, 1105), (680, 1090),
           (660, 1045), (620, 1050), (580, 1060), (590, 1040), (560, 1005)]),
    ("d", [(470, 1040), (495, 1000), (480, 965), (520, 925), (545, 965), (570, 965), (560, 1005), (590, 1040), (525, 1105),
           (510, 1075), (480, 1070), (465, 1045), (505, 1020)]),
    ("d", [(385, 1025), (415, 995), (460, 1000), (505, 1020), (465, 1045), (490, 1090), (495, 1150), (470, 1180), (425, 1125),
           (385, 1135), (385, 1095), (415, 1045)]),
    ("d", [(570, 1075), (660, 1045), (680, 1090), (725, 1115), (745, 1165), (735, 1185), (690, 1190), (620, 1210), (590, 1180),
           (580, 1150)]),
    ("d", [(495, 1090), (525, 1105), (570, 1070), (585, 1170), (560, 1210), (530, 1245), (500, 1330), (470, 1355), (465, 1290),
           (495, 1220), (480, 1180), (495, 1150)]),
    ("d", [(590, 1190), (620, 1210), (690, 1190), (740, 1180), (760, 1300), (720, 1320), (715, 1355), (650, 1310), (615, 1350),
           (600, 1330), (620, 1300), (610, 1260), (585, 1245)]),
    ("d", [(745, 1130), (770, 1100), (810, 1100), (830, 1150), (870, 1190), (885, 1215), (895, 1260), (915, 1290), (925, 1340),
           (870, 1325), (855, 1360), (810, 1385), (770, 1450), (755, 1465), (730, 1420), (710, 1420), (700, 1380), (720, 1320),
           (760, 1300)]),
    ("d", [(820, 1100), (885, 1095), (920, 1115), (980, 1090), (1030, 1070), (1080, 1120), (1130, 1130), (1150, 1180),
           (1130, 1250), (1115, 1305), (1090, 1310), (1085, 1345), (1040, 1390), (1050, 1440), (1005, 1460), (985, 1450),
           (970, 1410), (945, 1455), (930, 1340), (915, 1285), (885, 1215), (860, 1170), (830, 1150)]),
    ("d", [(745, 940), (770, 905), (800, 970), (790, 1020), (810, 1100), (770, 1095), (735, 1115), (730, 1050), (715, 1000),
           (720, 960)]),
    ("d", [(770, 880), (825, 880), (870, 860), (885, 930), (855, 915), (860, 1010), (835, 1060), (810, 1090), (790, 1020),
           (800, 970)]),
    ("d", [(860, 920), (890, 950), (905, 970), (945, 960), (945, 1015), (975, 1085), (930, 1110), (885, 1090), (825, 1095),
           (840, 1020), (865, 1010)]),
    ("d", [(935, 885), (960, 900), (1030, 890), (1090, 860), (1095, 940), (1040, 970), (1045, 1030), (1030, 1070), (1010, 1090),
           (960, 1030), (940, 1000), (945, 960), (905, 960), (895, 935), (915, 920), (925, 870)]),
    ("w", [(1100, 855), (1160, 870), (1175, 935), (1225, 935), (1215, 985), (1160, 1045), (1135, 1125), (1085, 1115),
           (1030, 1070), (1045, 1030), (1040, 970), (1095, 945)]),
    ("a", [(775, 835), (810, 838), (815, 850), (775, 850)]),
]
# class of each London group on the main map, where the inset bins differ
MINI_CLASS = {"t": "c", "a": "b", "w": "g", "d": "d"}


def to_map(sheet, pts):
    x0, y0, kx, ky = SHEETS[sheet]
    return [(x0 + x * kx, y0 + y * ky) for x, y in pts]


def draw_regions(ax, sheet, regions):
    for cls, pts in regions:
        xy = to_map(sheet, pts)
        if cls == "n":  # outer hebrides come without an outline and stay smooth
            ax.add_patch(Polygon(xy, closed=True, fc=COLS["g"], ec="none"))
            continue
        p = Polygon(xy, closed=True, fc=COLS[cls], ec=EDGE, lw=LW, joinstyle="round")
        p.set_sketch_params(*ROUGH)
        ax.add_patch(p)


def draw_lines(ax, sheet, lines):
    for pts in lines:
        xy = to_map(sheet, pts)
        ln, = ax.plot([p[0] for p in xy], [p[1] for p in xy], color=EDGE, lw=LW, solid_joinstyle="round",
                      solid_capstyle="round")
        ln.set_sketch_params(*ROUGH)


fig = plt.figure(figsize=(W / DPI, H / DPI), dpi=DPI, facecolor="white")
ax = fig.add_axes([0, 0, 1, 1])
ax.set_xlim(0, W)
ax.set_ylim(H, 0)
ax.axis("off")

# land first, then district lines, then coloured authorities
coast_xy = []
for sheet, pts in COAST:
    coast_xy += to_map(sheet, pts)
land = Polygon(coast_xy, closed=True, fc=COLS["g"], ec=EDGE, lw=LW, joinstyle="round")
land.set_sketch_params(*ROUGH)
ax.add_patch(land)

draw_lines(ax, "C", CENTRE_LINES)
draw_lines(ax, "E", EAST_LINES)
draw_lines(ax, "P", SOUTH_LINES)
draw_lines(ax, "W", CORNWALL_LINES)
draw_lines(ax, "M", MID_LINES)

draw_regions(ax, "M", MID_REGIONS)
draw_regions(ax, "N", NORTH_REGIONS)
draw_lines(ax, "N", NORTH_LINES)
draw_regions(ax, "C", CENTRE_REGIONS)
draw_regions(ax, "P", SOUTH_REGIONS)
draw_regions(ax, "S", WILTS_REGIONS)
draw_regions(ax, "E", EAST_REGIONS)
draw_regions(ax, "W", CORNWALL_REGIONS)

# London again at map scale under the black box
BOX = (3798.5, 2587, 141.5, 116)
for cls, pts in LONDON_BOROUGHS:
    xy = [(BOX[0] + (x - 157) / 1290 * BOX[2], BOX[1] + (y - 305) / 1212 * BOX[3]) for x, y in pts]
    ax.add_patch(Polygon(xy, closed=True, fc=COLS[MINI_CLASS[cls]], ec=EDGE, lw=LW, joinstyle="round"))
ax.add_patch(Rectangle(BOX[:2], BOX[2], BOX[3], fc="none", ec="black", lw=5.3, joinstyle="miter"))

# text block
ax.text(2430, 110, TITLE, fontsize=19.87, fontweight="bold", va="baseline", ha="left")
ax.text(2430, 238, SUBTITLE, fontsize=19.87, va="baseline", ha="left")
ax.text(2897, 3286, CAPTION, fontsize=13.4, va="baseline", ha="left")
for i, (cls, lab) in enumerate(zip("abcd", LEGEND_LABELS)):
    ax.add_patch(Rectangle((LEGEND_KEY_X[i] + 3.5, 308.5), 96, 96, fc=COLS[cls], ec=EDGE, lw=LW))
    ax.text(LEGEND_TEXT_X[i], 383, lab, fontsize=16.3, va="baseline", ha="left")
ax.text(4447, 926, "London", fontsize=16.3, va="baseline", ha="left")

# London inset
axl = fig.add_axes([4450 / W, 1 - 1613 / H, 823 / W, 633 / H])
axl.set_xlim(157, 1447)
axl.set_ylim(1517, 305)
axl.set_facecolor("white")
axl.set_xticks(LONDON_X_TICKS)
axl.set_yticks(LONDON_Y_TICKS)
axl.tick_params(labelbottom=False, labelleft=False, length=4.8, width=1.6, color="#333333")
axl.grid(True, color="#EBEBEB", lw=1.6)
axl.set_axisbelow(True)
for s in axl.spines.values():
    s.set_color("#333333")
    s.set_linewidth(1.2)
axl.add_patch(Polygon(LONDON_OUTLINE, closed=True, fc=COLS["d"], ec="none"))
for cls, pts in LONDON_BOROUGHS:
    fc = "white" if cls == "w" else COLS[cls]
    p = Polygon(pts, closed=True, fc=fc, ec=EDGE, lw=LW_LONDON, joinstyle="round")
    p.set_sketch_params(*ROUGH_LONDON)
    axl.add_patch(p)

fig.savefig("out.png", dpi=DPI, facecolor="white")
